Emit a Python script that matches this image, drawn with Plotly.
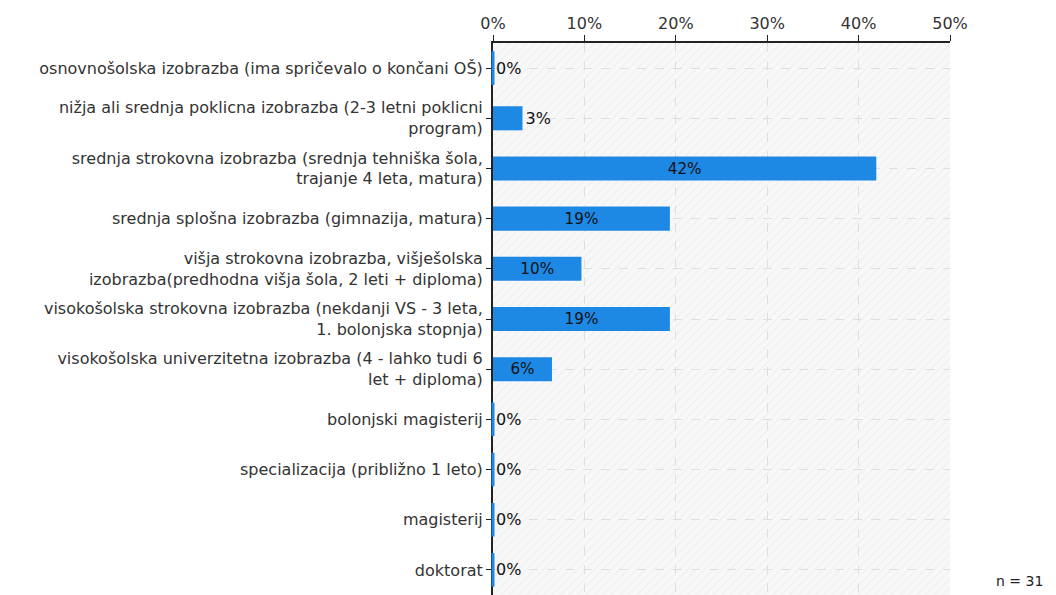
import plotly.graph_objects as go

# podatki
categories = [
    "osnovnošolska izobrazba (ima spričevalo o končani OŠ)",
    "nižja ali srednja poklicna izobrazba (2-3 letni poklicni<br>program)",
    "srednja strokovna izobrazba (srednja tehniška šola,<br>trajanje 4 leta, matura)",
    "srednja splošna izobrazba (gimnazija, matura)",
    "višja strokovna izobrazba, višješolska<br>izobrazba(predhodna višja šola, 2 leti + diploma)",
    "visokošolska strokovna izobrazba (nekdanji VS - 3 leta,<br>1. bolonjska stopnja)",
    "visokošolska univerzitetna izobrazba (4 - lahko tudi 6<br>let + diploma)",
    "bolonjski magisterij",
    "specializacija (približno 1 leto)",
    "magisterij",
    "doktorat",
]
counts = [0, 1, 13, 6, 3, 6, 2, 0, 0, 0, 0]
n_total = 31
x_ticks = [0, 0.1, 0.2, 0.3, 0.4, 0.5]
x_ticklabels = ["0%", "10%", "20%", "30%", "40%", "50%"]

shares = [c / n_total for c in counts]
labels = [f"{round(s * 100)}%" for s in shares]
positions = ["inside" if s >= 0.05 else "outside" for s in shares]
rows = list(range(len(categories)))
zero_rows = [r for r, s in zip(rows, shares) if s == 0]

BLUE = "#1e88e5"
FONT = "DejaVu Sans"
FS = 16

fig = go.Figure()

# ozadje s črtkanim vzorcem (bar čez celo širino, pod pravimi stolpci)
fig.add_trace(go.Bar(
    x=[0.5] * len(rows),
    y=rows,
    orientation="h",
    width=1,
    marker=dict(
        color="rgba(0,0,0,0)",
        line=dict(width=0),
        pattern=dict(shape="/", fgcolor="#e6e6e6", bgcolor="rgba(0,0,0,0)",
                     size=6, solidity=0.2),
    ),
    hoverinfo="skip",
    showlegend=False,
))

fig.add_trace(go.Bar(
    x=shares,
    y=rows,
    orientation="h",
    width=0.48,
    marker=dict(color=BLUE, line=dict(width=0)),
    text=labels,
    textposition=positions,
    insidetextanchor="middle",
    textfont=dict(family=FONT, size=FS, color="#111111"),
    cliponaxis=False,
    showlegend=False,
))

# ničelni odgovori: tanka modra črtica na osi
fig.add_trace(go.Scatter(
    x=[0] * len(zero_rows),
    y=zero_rows,
    mode="markers",
    marker=dict(symbol="line-ns", size=24, line=dict(color=BLUE, width=3)),
    cliponaxis=False,
    hoverinfo="skip",
    showlegend=False,
))

fig.add_annotation(
    text=f"n = {n_total}",
    xref="paper", yref="paper",
    x=1.0, y=0.0, xanchor="right", yanchor="bottom",
    xshift=95, yshift=4,
    showarrow=False,
    font=dict(family=FONT, size=FS - 2, color="#222222"),
)

fig.update_layout(
    width=1056,
    height=595,
    margin=dict(l=493, r=106, t=43, b=0),
    paper_bgcolor="white",
    plot_bgcolor="#f8f8f8",
    font=dict(family=FONT, size=FS, color="#333333"),
    barmode="overlay",
    xaxis=dict(
        side="top",
        range=[0, 0.5],
        tickvals=x_ticks,
        ticktext=x_ticklabels,
        ticks="outside",
        ticklen=6,
        tickcolor="#222222",
        showline=True,
        linecolor="#222222",
        linewidth=2,
        showgrid=True,
        gridcolor="#dedede",
        griddash="dash",
        zeroline=False,
        fixedrange=True,
    ),
    yaxis=dict(
        range=[len(rows) - 0.5, -0.5],
        tickvals=rows,
        ticktext=categories,
        ticks="outside",
        ticklen=5,
        tickcolor="#222222",
        showline=True,
        linecolor="#222222",
        linewidth=2,
        layer="below traces",
        showgrid=True,
        gridcolor="#dedede",
        griddash="dash",
        zeroline=False,
        fixedrange=True,
    ),
)

fig.write_html(
    "out.html",
    config={"displayModeBar": False},
    post_script="document.body.style.margin='0';",
)
